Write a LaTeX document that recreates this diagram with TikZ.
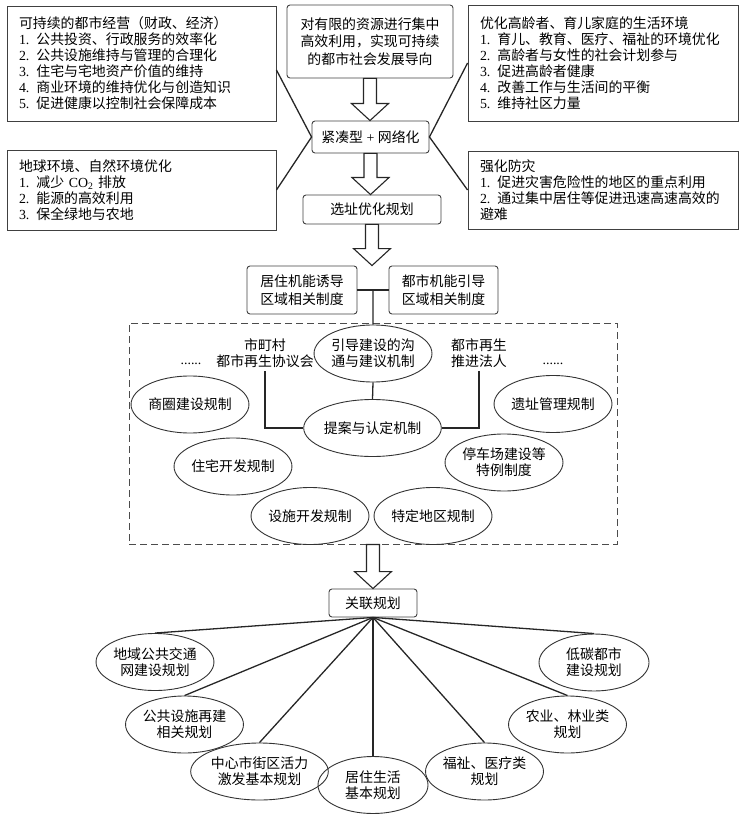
\documentclass[tikz,border=0pt]{standalone}
\usepackage{fontspec}
\setmainfont{Noto Sans CJK SC}
\newfontfamily\nrfont{Liberation Serif}
\newcommand\nr[1]{{\nrfont #1}}
\usetikzlibrary{arrows.meta, positioning, calc, shapes.geometric}

\tikzset{
    box/.style={draw=black!75, line width=0.9pt, align=left, inner ysep=0pt},
    rbox/.style={draw=black!75, line width=0.9pt, rounded corners=3pt, align=center,
        inner sep=0pt, font=\fontsize{13.9}{17.5}\selectfont},
    oval/.style={ellipse, draw=black!80, line width=0.9pt, minimum width=110pt,
        minimum height=57pt, inner sep=0pt, align=center},
    zonebox/.style={draw=black!70, line width=0.9pt, dash pattern=on 7pt off 4pt},
    link/.style={draw=black!85, line width=1.3pt},
    hollow/.style={draw=black!85, line width=1.1pt, fill=white, line join=miter}
}
\newcommand\bigarrow[2]{%
    \draw[hollow] let \p1=(#1), \p2=(#2) in
        (\x1-6.5pt,\y1) -- (\x1-6.5pt,\y2+17pt) -- (\x1-18.5pt,\y2+17pt)
        -- (\x1,\y2) -- (\x1+18.5pt,\y2+17pt) -- (\x1+6.5pt,\y2+17pt)
        -- (\x1+6.5pt,\y1) -- cycle;}

\begin{document}
\begin{tikzpicture}[x=1pt, y=-1pt, font=\fontsize{13.9}{16}\selectfont]
    \useasboundingbox (0,0) rectangle (743,818);

    \node[box, text width=245pt, inner xsep=12pt, minimum height=115pt] (sust) at (141.5,63.5)
        {可持续的都市经营（财政、经济）\\
        \nr{1. }公共投资、行政服务的效率化\\
        \nr{2. }公共设施维持与管理的合理化\\
        \nr{3. }住宅与宅地资产价值的维持\\
        \nr{4. }商业环境的维持优化与创造知识\\
        \nr{5. }促进健康以控制社会保障成本};
    \node[box, text width=245pt, inner xsep=12pt, minimum height=80pt] (earth) at (141.5,190)
        {地球环境、自然环境优化\\
        \nr{1. }减少\nr{ CO\textsubscript{2} }排放\\
        \nr{2. }能源的高效利用\\
        \nr{3. }保全绿地与农地};
    \node[box, text width=246pt, inner xsep=12pt, minimum height=116pt] (aged) at (603,63)
        {优化高龄者、育儿家庭的生活环境\\
        \nr{1. }育儿、教育、医疗、福祉的环境优化\\
        \nr{2. }高龄者与女性的社会计划参与\\
        \nr{3. }促进高龄者健康\\
        \nr{4. }改善工作与生活间的平衡\\
        \nr{5. }维持社区力量};
    \node[box, text width=246pt, inner xsep=12pt, minimum height=78pt] (disas) at (603,190)
        {强化防灾\\
        \nr{1. }促进灾害危险性的地区的重点利用\\
        \nr{2. }通过集中居住等促进迅速高速高效的\\
        避难};

    \node[rbox, minimum width=166pt, minimum height=73pt] (aim) at (370,41.5)
        {对有限的资源进行集中\\高效利用，实现可持续\\的都市社会发展导向};
    \node[rbox, minimum width=117pt, minimum height=32pt] (compact) at (370.5,137)
        {紧凑型\nr{ + }网络化};
    \node[rbox, minimum width=138pt, minimum height=29pt] (siting) at (372,209.5) {选址优化规划};
    \node[rbox, minimum width=110pt, minimum height=48pt] (live) at (302,290)
        {居住机能诱导\\区域相关制度};
    \node[rbox, minimum width=109pt, minimum height=48pt] (city) at (443.5,290)
        {都市机能引导\\区域相关制度};
    \coordinate (split) at ($(live.north east)!0.5!(city.north west)$);

    \draw[link] ([yshift=-6.5pt]sust.east) -- (compact.west) -- (earth.east);
    \draw[link] (aged.west) -- (compact.east) -- (disas.west);

    \node[zonebox, minimum width=488pt, minimum height=221pt] (zone) at (373,433.5) {};

    \node[oval] (guide) at (373,353.5) {引导建设的沟\\通与建议机制};
    \node[oval] (propose) at (372.5,428) {提案与认定机制};
    \node[align=center] (muni) at (265,353) {市町村\\都市再生协议会};
    \node[align=center] (renew) at (479,353) {都市再生\\推进法人};
    \node (dotl) at (191,364) {\nr{......}};
    \node (dotr) at (553,364) {\nr{......}};
    \node[oval] (shop) at (190,404.5) {商圈建设规制};
    \node[oval] (house) at (233,466.5) {住宅开发规制};
    \node[oval] (facil) at (310,516) {设施开发规制};
    \node[oval] (zonesp) at (433,516) {特定地区规制};
    \node[oval] (park) at (504,462.5) {停车场建设等\\特例制度};
    \node[oval] (ruins) at (553,404) {遗址管理规制};

    \draw[link] (live.east) -- (city.west);
    \draw[link] ($(live.east)!0.5!(city.west)$) -- (guide.north);
    \draw[link] (guide.south) -- (propose.north);
    \draw[link] (muni.south) |- (propose.west);
    \draw[link] (renew.south) |- (propose.east);

    \node[rbox, minimum width=88pt, minimum height=28pt] (rel) at (373,603) {关联规划};
    \node[oval] (transit) at (155,662) {地域公共交通\\网建设规划};
    \node[oval] (pubfac) at (184.5,724.5) {公共设施再建\\相关规划};
    \node[oval] (centre) at (259.5,771.5) {中心市街区活力\\激发基本规划};
    \node[oval] (living) at (373,785) {居住生活\\基本规划};
    \node[oval] (welfare) at (484.5,771.5) {福祉、医疗类\\规划};
    \node[oval] (agri) at (567.5,724.5) {农业、林业类\\规划};
    \node[oval] (lowc) at (594,662.5) {低碳都市\\建设规划};
    \foreach \e in {transit, pubfac, centre, living, welfare, agri, lowc}
        \draw[link] (rel.south) -- (\e.north);

    \bigarrow{aim.south}{compact.north}
    \bigarrow{compact.south}{siting.north}
    \bigarrow{siting.south}{split}
    \bigarrow{zone.south}{rel.north}
\end{tikzpicture}
\end{document}
